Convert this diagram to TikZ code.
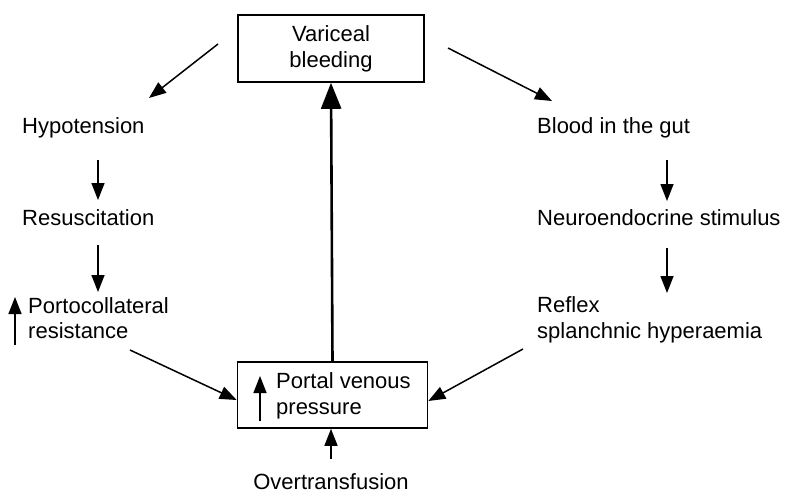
\documentclass[tikz,border=0pt]{standalone}
\usepackage{fontspec}
\setmainfont{Liberation Sans}
\usetikzlibrary{arrows.meta}
\begin{document}
\begin{tikzpicture}[x=1pt,y=-1pt,
  txt/.style={font=\fontsize{22}{25.5}\selectfont, inner sep=0pt, align=left},
  bx/.style={draw, line width=1.6pt, inner sep=0pt},
  arr/.style={line width=1.5pt, -{Triangle[length=17pt,width=13pt]}},
  bigarr/.style={line width=2.6pt, -{Triangle[length=26pt,width=20pt]}}]
\useasboundingbox (0,0) rectangle (792,500);
% boxes
\node[bx, minimum width=186pt, minimum height=67pt] (vb) at (331,48.5) {};
\node[txt, align=center] (vbt) at (331,49) {Variceal\\bleeding};
\node[bx, minimum width=190pt, minimum height=66pt] (pv) at (332.5,395) {};
\node[txt, anchor=west] (pvt) at (276,396) {Portal venous\\pressure};
\coordinate (pva) at (260,421);
\coordinate (pvb) at (260,376);
\draw[arr] (pva) -- (pvb);
% left column
\node[txt, anchor=west] (hyp) at (22,128) {Hypotension};
\node[txt, anchor=west] (res) at (22,218) {Resuscitation};
\node[txt, anchor=west] (pcr) at (28,318) {Portocollateral\\resistance};
\coordinate (upa) at (15,345);
\coordinate (upb) at (15,297);
\draw[arr] (upa) -- (upb);
% right column
\node[txt, anchor=west] (blood) at (537,128) {Blood in the gut};
\node[txt, anchor=west] (neuro) at (537,218) {Neuroendocrine stimulus};
\node[txt, anchor=west] (refl) at (537,320) {Reflex\\splanchnic hyperaemia};
% bottom
\node[txt] (ot) at (331,482) {Overtransfusion};
% connectors
\coordinate (l1) at (218,44);
\coordinate (l2) at (149,98);
\draw[arr] (l1) -- (l2);
\coordinate (r1) at (448,48);
\coordinate (r2) at (552,101);
\draw[arr] (r1) -- (r2);
\coordinate (h1) at (98,160);
\coordinate (h2) at (98,200);
\draw[arr] (h1) -- (h2);
\coordinate (s1) at (98,245);
\coordinate (s2) at (98,292);
\draw[arr] (s1) -- (s2);
\coordinate (b1) at (667,160);
\coordinate (b2) at (667,201);
\draw[arr] (b1) -- (b2);
\coordinate (n1) at (667,248);
\coordinate (n2) at (667,293);
\draw[arr] (n1) -- (n2);
\coordinate (pc1) at (130,350);
\draw[arr] (pc1) -- (pv.west |- 0,400);
\coordinate (rf1) at (523,349);
\draw[arr] (rf1) -- (pv.east |- 0,401);
\coordinate (ot1) at (331,459);
\draw[arr] (ot1) -- (ot1 |- pv.south);
\draw[bigarr] (pv.north) -- (vb.south);
\end{tikzpicture}
\end{document}
